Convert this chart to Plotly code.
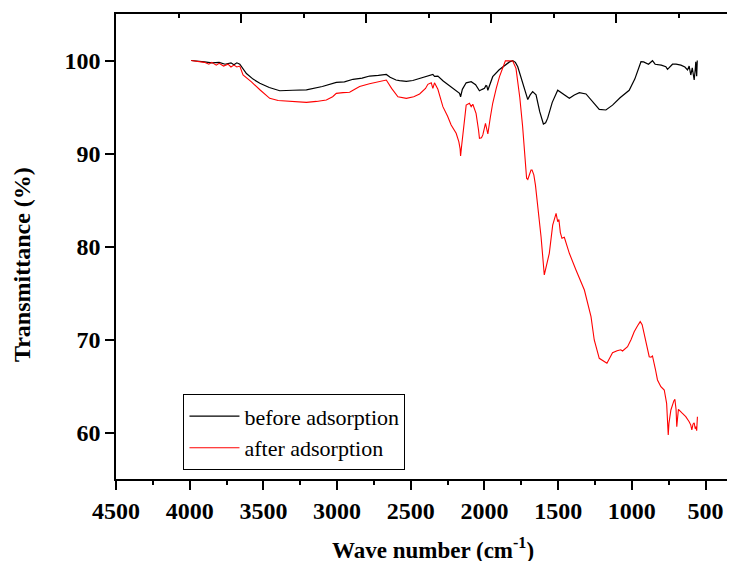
import plotly.graph_objects as go

# ---- data ----
wn_before = [3990, 3950, 3900, 3850, 3800, 3760, 3720, 3700, 3680, 3660, 3640, 3615, 3570, 3524,
             3460, 3389, 3300, 3208, 3100, 3005, 2950, 2892, 2830, 2779, 2720, 2666, 2640, 2600,
             2576, 2530, 2486, 2440, 2395, 2350, 2339, 2316, 2280, 2240, 2200, 2169, 2162, 2150,
             2124, 2090, 2060, 2034, 2015, 2000, 1990, 1984, 1977, 1960, 1944, 1900, 1860, 1830,
             1808, 1790, 1774, 1740, 1706, 1690, 1673, 1650, 1625, 1600, 1585, 1571, 1540, 1503,
             1465, 1424, 1390, 1356, 1311, 1270, 1221, 1176, 1131, 1080, 1018, 980, 938, 920, 904,
             887, 860, 842, 800, 769, 758, 724, 700, 667, 640, 622, 611, 600, 590, 577, 570, 566,
             560, 556]
t_before = [100.0, 99.9, 99.85, 99.75, 99.8, 99.6, 99.75, 99.55, 99.75, 99.6, 99.2, 98.6, 98.0, 97.55,
            97.1, 96.75, 96.8, 96.85, 97.2, 97.65, 97.7, 97.98, 98.1, 98.33, 98.4, 98.5, 98.2, 97.9,
            97.83, 97.75, 97.85, 98.08, 98.3, 98.5, 98.3, 98.33, 97.8, 97.3, 96.9, 96.47, 96.1, 96.9,
            97.6, 97.72, 97.4, 96.75, 96.9, 97.0, 97.3, 97.26, 96.8, 97.6, 98.26, 99.0, 99.5, 99.85,
            99.98, 99.8, 99.33, 97.5, 95.8, 96.3, 96.65, 96.3, 94.5, 93.17, 93.3, 93.8, 95.5, 96.8,
            96.4, 95.93, 96.3, 96.54, 96.4, 95.7, 94.75, 94.68, 95.2, 96.0, 96.8, 98.0, 99.87, 99.85, 99.7,
            99.6, 99.98, 99.6, 99.5, 99.33, 99.05, 99.6, 99.6, 99.5, 99.3, 98.98, 99.4, 98.44, 99.2, 97.9,
            99.0, 99.87, 98.3, 100.0]

wn_after = [3990, 3950, 3900, 3870, 3850, 3820, 3800, 3770, 3740, 3720, 3700, 3680, 3660, 3638,
            3581, 3520, 3457, 3400, 3300, 3208, 3140, 3073, 3030, 3005, 2960, 2915, 2880, 2847,
            2780, 2720, 2666, 2630, 2587, 2530, 2480, 2440, 2400, 2384, 2361, 2350, 2339, 2316,
            2282, 2250, 2226, 2192, 2174, 2165, 2162, 2155, 2147, 2124, 2102, 2090, 2079, 2057,
            2040, 2034, 2020, 2011, 1993, 1977, 1960, 1944, 1920, 1898, 1858, 1830, 1808, 1786,
            1760, 1741, 1725, 1714, 1706, 1695, 1684, 1677, 1665, 1654, 1640, 1616, 1594, 1580,
            1560, 1537, 1520, 1514, 1503, 1495, 1485, 1474, 1458, 1440, 1424, 1379, 1322, 1277,
            1255, 1221, 1190, 1169, 1150, 1131, 1100, 1075, 1063, 1029, 1005, 984, 960, 943, 930,
            916, 900, 882, 870, 860, 840, 826, 803, 780, 764, 757, 753, 748, 735, 715, 708, 700,
            695, 690, 684, 660, 634, 611, 600, 593, 585, 577, 570, 566, 560, 555]
t_after = [100.0, 99.9, 99.8, 99.6, 99.8, 99.5, 99.7, 99.4, 99.6, 99.3, 99.5, 99.3, 99.4, 98.44,
           97.7, 96.8, 95.93, 95.7, 95.6, 95.5, 95.6, 95.75, 96.1, 96.47, 96.55, 96.58, 96.9, 97.2,
           97.5, 97.75, 97.9, 97.0, 96.1, 95.93, 96.1, 96.4, 97.0, 97.44, 97.6, 97.0, 97.6, 96.9,
           95.04, 94.0, 93.06, 92.17, 91.27, 90.5, 89.73, 90.8, 91.8, 95.2, 95.4, 95.04, 95.3, 94.32,
           92.5, 91.63, 91.7, 92.0, 93.25, 92.1, 93.9, 95.4, 97.0, 98.26, 99.98, 100.0, 99.95, 99.16,
           96.0, 92.9, 89.0, 87.33, 87.2, 87.8, 88.23, 88.23, 87.7, 86.6, 84.5, 81.05, 76.94, 77.8,
           79.27, 82.3, 83.4, 83.57, 82.67, 82.9, 81.5, 80.88, 80.99, 80.0, 79.27, 77.47, 75.32, 72.45,
           69.95, 67.98, 67.6, 67.44, 68.0, 68.58, 68.8, 68.9, 68.76, 69.23, 70.0, 70.84, 71.5, 71.92, 71.6,
           70.67, 69.5, 68.15, 68.1, 68.23, 66.8, 65.65, 64.93, 64.57, 63.14, 61.0, 59.73, 61.0, 62.42, 63.4, 63.57, 62.5,
           60.62, 61.5, 62.49, 62.1, 61.7, 61.16, 60.8, 60.27, 60.9, 61.05, 60.4, 60.62, 60.2, 61.7]

x_ticks = [4500, 4000, 3500, 3000, 2500, 2000, 1500, 1000, 500]
y_ticks = [60, 70, 80, 90, 100]
series_names = ["before adsorption", "after adsorption"]
x_title = "<b>Wave number (cm<sup>-1</sup>)</b>"
y_title = "<b>Transmittance (%)</b>"

FONT = "Liberation Serif"

fig = go.Figure()
fig.add_trace(go.Scatter(x=wn_before, y=t_before, mode="lines", name=series_names[0],
                         line=dict(color="black", width=1.2)))
fig.add_trace(go.Scatter(x=wn_after, y=t_after, mode="lines", name=series_names[1],
                         line=dict(color="red", width=1.1)))
# helper (empty) trace so the top / right decorative axes are drawn
fig.add_trace(go.Scatter(x=[None], y=[None], xaxis="x2", yaxis="y2", showlegend=False,
                         hoverinfo="skip"))

# the page body adds an 8px offset, so the figure is sized to end at the window edge
fig.update_layout(
    width=727, height=553,
    margin=dict(l=108, r=0, t=6, b=82, autoexpand=False),
    paper_bgcolor="white", plot_bgcolor="white",
    font=dict(family=FONT, color="black"),
    showlegend=True,
    legend=dict(x=0.109, y=0.182, xanchor="left", yanchor="top",
                bordercolor="black", borderwidth=1, bgcolor="white",
                font=dict(family=FONT, size=22, color="black"),
                tracegroupgap=0, itemwidth=50),
    xaxis=dict(range=[4500, 300], tickmode="array", tickvals=x_ticks, automargin=False,
               ticks="outside", ticklen=9, tickwidth=1.5, tickcolor="black",
               showline=True, linecolor="black", linewidth=1.5, mirror=False,
               showgrid=False, zeroline=False,
               minor=dict(dtick=250, tick0=250, ticks="outside", ticklen=4, tickwidth=1.5,
                          tickcolor="black", showgrid=False),
               tickfont=dict(family=FONT, size=24, weight="bold")),
    yaxis=dict(range=[55, 105], tickmode="array", tickvals=y_ticks, automargin=False,
               ticks="outside", ticklen=9, tickwidth=1.5, tickcolor="black",
               showline=True, linecolor="black", linewidth=1.5, mirror=False,
               showgrid=False, zeroline=False,
               tickfont=dict(family=FONT, size=24, weight="bold")),
    xaxis2=dict(overlaying="x", side="top", anchor="y", range=[0, 2476], automargin=False,
                tickmode="array", tickvals=[500, 1000, 1500, 2000],
                ticks="inside", ticklen=9, tickwidth=1.5, tickcolor="black",
                minor=dict(tickvals=[250, 750, 1250, 1750, 2250], ticks="inside",
                           ticklen=4, tickwidth=1.5, tickcolor="black", showgrid=False),
                showticklabels=False, showline=True, linecolor="black", linewidth=1.5,
                showgrid=False, zeroline=False),
    yaxis2=dict(overlaying="y", side="right", anchor="x", range=[55, 105], automargin=False,
                tickmode="array", tickvals=[65, 75, 85, 95],
                ticks="inside", ticklen=4, tickwidth=1.5, tickcolor="black",
                showticklabels=False, showline=False, showgrid=False, zeroline=False),
    annotations=[
        dict(text=x_title, xref="paper", yref="paper", x=0.512, y=-0.1505,
             xanchor="center", yanchor="middle", showarrow=False,
             font=dict(family=FONT, size=23, color="black")),
        dict(text=y_title, xref="paper", yref="paper", x=-0.152, y=0.462,
             xanchor="center", yanchor="middle", showarrow=False, textangle=-90,
             font=dict(family=FONT, size=24, color="black")),
    ],
)

fig.write_html("out.html")
